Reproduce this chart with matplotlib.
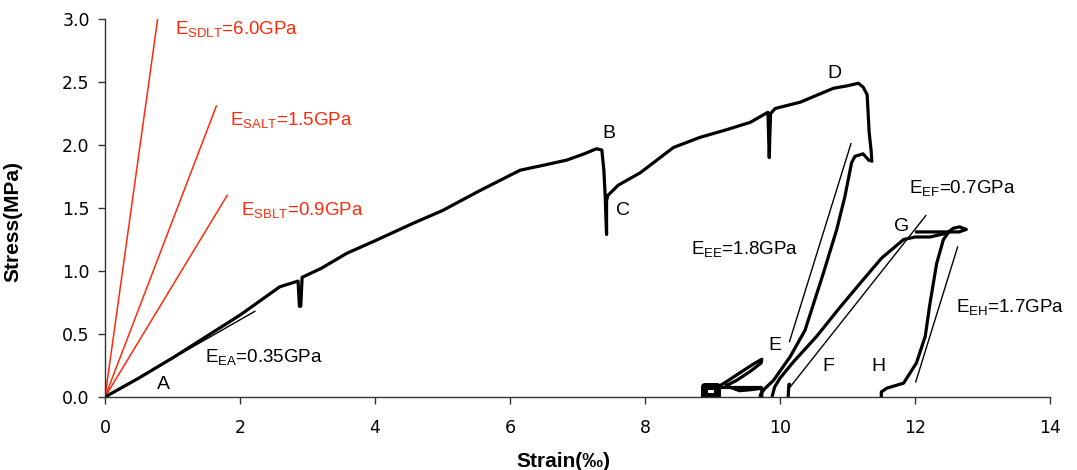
import numpy as np
import matplotlib
matplotlib.use("Agg")
import matplotlib.pyplot as plt

# ---------------- data ----------------
# main loading curve O-A-B-C-D
main_strain = [0.0, 0.5, 1.0, 1.5, 2.0, 2.59, 2.86, 2.88, 2.90, 2.92, 3.2, 3.58, 4.0, 4.57,
               5.0, 5.56, 6.15, 6.5, 6.84, 7.1, 7.28, 7.36, 7.39, 7.41, 7.43, 7.43, 7.45,
               7.6, 7.93, 8.42, 8.81, 9.2, 9.56, 9.82, 9.84, 9.85, 9.86, 9.93, 10.3, 10.79,
               11.0, 11.16, 11.23, 11.29, 11.32, 11.35, 11.36]
main_stress = [0.0, 0.15, 0.31, 0.48, 0.65, 0.875, 0.92, 0.72, 0.72, 0.95, 1.02, 1.14, 1.24, 1.38,
               1.48, 1.64, 1.80, 1.84, 1.88, 1.93, 1.97, 1.96, 1.80, 1.59, 1.29, 1.56, 1.60,
               1.68, 1.78, 1.98, 2.06, 2.12, 2.18, 2.26, 1.90, 2.09, 2.25, 2.29, 2.34, 2.45,
               2.47, 2.49, 2.46, 2.40, 2.10, 1.95, 1.86]

# reloading/unloading branch through E
e_strain = [11.33, 11.23, 11.11, 11.06, 10.96, 10.84, 10.64, 10.37, 10.15, 9.90, 9.78, 9.72, 9.70]
e_stress = [1.87, 1.93, 1.91, 1.86, 1.59, 1.33, 0.98, 0.53, 0.32, 0.13, 0.07, 0.03, 0.0]

# branch through F up to G and the plateau
f_strain = [9.88, 9.92, 10.0, 10.2, 10.54, 10.9, 11.23, 11.5, 11.83, 12.0, 12.22, 12.47,
            12.57, 12.66, 12.76, 12.65, 12.54, 12.0]
f_stress = [0.0, 0.08, 0.15, 0.28, 0.48, 0.72, 0.93, 1.10, 1.25, 1.27, 1.27, 1.30,
            1.34, 1.35, 1.33, 1.31, 1.31, 1.31]

# unloading branch G -> H
h_strain = [12.50, 12.42, 12.32, 12.22, 12.15, 12.02, 11.83, 11.58, 11.50, 11.50]
h_stress = [1.31, 1.25, 1.06, 0.74, 0.48, 0.27, 0.11, 0.07, 0.04, 0.0]

# small residual loops near zero stress
box_strain = [8.88, 8.88, 9.07, 9.07, 8.88]
box_stress = [0.01, 0.085, 0.085, 0.01, 0.01]
loop_strain = [9.08, 9.2, 9.4, 9.6, 9.73, 9.72, 9.55, 9.35, 9.2, 9.4, 9.6, 9.73, 9.73]
loop_stress = [0.08, 0.12, 0.19, 0.26, 0.30, 0.27, 0.20, 0.13, 0.09, 0.05, 0.06, 0.07, 0.0]
base_strain = [8.95, 9.3, 9.73]
base_stress = [0.08, 0.08, 0.08]
tick_strain = [10.12, 10.13, 10.16]
tick_stress = [0.0, 0.1, 0.1]

# fitted modulus lines (thin black)
fit_x0 = [0.0, 10.14, 10.15, 12.01]
fit_y0 = [0.0, 0.44, 0.08, 0.12]
fit_x1 = [2.22, 11.05, 12.16, 12.63]
fit_y1 = [0.68, 2.01, 1.44, 1.19]

# reference modulus lines (red, from origin)
red_x1 = [0.78, 1.65, 1.81]
red_y1 = [3.0, 2.31, 1.60]

red_labels = [("SDLT", "6.0"), ("SALT", "1.5"), ("SBLT", "0.9")]
red_label_x = [1.04, 1.85, 2.01]
red_label_y = [2.91, 2.19, 1.48]

black_labels = [("EA", "0.35"), ("EE", "1.8"), ("EF", "0.7"), ("EH", "1.7")]
black_label_x = [1.48, 8.68, 11.91, 12.61]
black_label_y = [0.31, 1.17, 1.65, 0.71]

point_names = ["A", "B", "C", "D", "E", "F", "G", "H"]
point_x = [0.86, 7.47, 7.67, 10.81, 9.93, 10.71, 11.8, 11.45]
point_y = [0.10, 2.09, 1.48, 2.57, 0.41, 0.24, 1.35, 0.24]

x_ticks = [0, 2, 4, 6, 8, 10, 12, 14]
y_ticks = [0.0, 0.5, 1.0, 1.5, 2.0, 2.5, 3.0]

# ---------------- drawing ----------------
plt.rcParams['font.family'] = ['Liberation Sans', 'DejaVu Sans']
fig = plt.figure(figsize=(10.77, 4.70), dpi=100)
ax = fig.add_axes([0.0975, 0.1553, 0.8775, 0.8043])

red = '#ff2a0a'
thick = dict(color='black', lw=2.3, solid_capstyle='butt', solid_joinstyle='round')

for xe, ye in zip(red_x1, red_y1):
    ax.plot([0, xe], [0, ye], color=red, lw=1.1)
for a, b, c, d in zip(fit_x0, fit_y0, fit_x1, fit_y1):
    ax.plot([a, c], [b, d], color='black', lw=1.0)

ax.plot(main_strain, main_stress, **thick)
ax.plot(e_strain, e_stress, **thick)
ax.plot(f_strain, f_stress, **thick)
ax.plot(h_strain, h_stress, **thick)
ax.plot(box_strain, box_stress, color='black', lw=5)
ax.plot(loop_strain, loop_stress, **thick)
ax.plot(base_strain, base_stress, **thick)
ax.plot(tick_strain, tick_stress, **thick)

for (sub, val), x, y in zip(red_labels, red_label_x, red_label_y):
    ax.text(x, y, r'E$_{\mathregular{%s}}$=%sGPa' % (sub, val), color=red,
            fontsize=13.5, ha='left', va='center')
for (sub, val), x, y in zip(black_labels, black_label_x, black_label_y):
    ax.text(x, y, r'E$_{\mathregular{%s}}$=%sGPa' % (sub, val), color='black',
            fontsize=13.5, ha='left', va='center')
for n, x, y in zip(point_names, point_x, point_y):
    ax.text(x, y, n, color='black', fontsize=14, ha='center', va='center')

ax.set_xlim(0, 14)
ax.set_ylim(0, 3.0)
ax.set_xticks(x_ticks)
ax.set_yticks(y_ticks)
ax.set_xticklabels([str(t) for t in x_ticks], family='DejaVu Sans', fontsize=12.5)
ax.set_yticklabels(['%.1f' % t for t in y_ticks], family='DejaVu Sans', fontsize=12.5)
for s in ['top', 'right']:
    ax.spines[s].set_visible(False)
for s in ['left', 'bottom']:
    ax.spines[s].set_color('#333333')
    ax.spines[s].set_linewidth(1.0)
ax.tick_params(direction='out', length=5, width=1, colors='#333333', labelcolor='black')
ax.tick_params(axis='x', pad=11)
ax.tick_params(axis='y', pad=6)

ax.set_xlabel('Strain(‰)', fontsize=15, fontweight='bold')
ax.set_ylabel('Stress(MPa)', fontsize=15, fontweight='bold')
ax.xaxis.set_label_coords(0.485, -0.146)
ax.yaxis.set_label_coords(-0.087, 0.463)

fig.savefig('out.png', dpi=100)
